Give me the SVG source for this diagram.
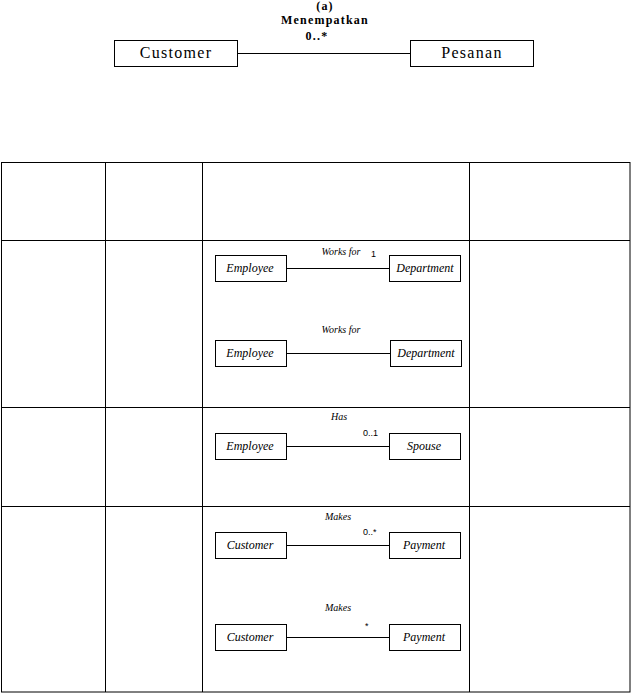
<svg xmlns="http://www.w3.org/2000/svg" width="632" height="694" viewBox="0 0 632 694">
<style>
.box{fill:#fff;stroke:#000;stroke-width:1}
.ln{stroke:#000;stroke-width:1;fill:none}
.big{font-family:"Liberation Serif","DejaVu Serif",serif;font-size:16px;letter-spacing:1.3px;text-anchor:middle}
.hd{font-family:"Liberation Serif","DejaVu Serif",serif;font-size:12px;font-weight:bold;letter-spacing:1.2px;text-anchor:middle}
.it{font-family:"Liberation Serif","DejaVu Serif",serif;font-style:italic;font-size:12px;text-anchor:middle}
.sm{font-family:"Liberation Serif","DejaVu Serif",serif;font-style:italic;font-size:10px;text-anchor:middle}
.mul{font-family:"Liberation Sans",sans-serif;font-size:9px}
</style>
<rect width="632" height="694" fill="#fff"/>
<g id="table" class="ln">
<rect x="1.5" y="162.5" width="628.5" height="529.5"/>
<line x1="105.5" y1="162" x2="105.5" y2="692"/>
<line x1="202.5" y1="162" x2="202.5" y2="692"/>
<line x1="469.5" y1="162" x2="469.5" y2="692"/>
<line x1="1" y1="240.5" x2="630" y2="240.5"/>
<line x1="1" y1="407.5" x2="630" y2="407.5"/>
<line x1="1" y1="506.5" x2="630" y2="506.5"/>
</g>
<text class="hd" x="325" y="10">(a)</text>
<text class="hd" x="325" y="24">Menempatkan</text>
<text class="hd" x="317" y="40">0..*</text>
<g id="connectors" class="ln">
<line x1="237" y1="53.5" x2="410" y2="53.5"/>
<line x1="286" y1="268.5" x2="389" y2="268.5"/>
<line x1="286" y1="353.5" x2="390" y2="353.5"/>
<line x1="286" y1="446.5" x2="389" y2="446.5"/>
<line x1="286" y1="545.5" x2="389" y2="545.5"/>
<line x1="286" y1="637.5" x2="389" y2="637.5"/>
</g>
<g id="customer-a"><rect class="box" x="114.5" y="40.5" width="123" height="26"/><text class="big" x="176" y="58">Customer</text></g>
<g id="pesanan-a"><rect class="box" x="410.5" y="40.5" width="123" height="26"/><text class="big" x="472" y="58">Pesanan</text></g>
<text class="sm" x="341" y="255">Works for</text>
<text class="mul" x="371" y="257">1</text>
<g id="employee1"><rect class="box" x="215.5" y="255.5" width="71" height="26"/><text class="it" x="250" y="272">Employee</text></g>
<g id="department1"><rect class="box" x="389.5" y="255.5" width="71" height="26"/><text class="it" x="425" y="272">Department</text></g>
<text class="sm" x="341" y="333">Works for</text>
<g id="employee2"><rect class="box" x="215.5" y="340.5" width="71" height="26"/><text class="it" x="250" y="357">Employee</text></g>
<g id="department2"><rect class="box" x="390.5" y="340.5" width="71" height="26"/><text class="it" x="426" y="357">Department</text></g>
<text class="sm" x="339" y="420">Has</text>
<text class="mul" x="363" y="436">0..1</text>
<g id="employee3"><rect class="box" x="215.5" y="433.5" width="71" height="26"/><text class="it" x="250" y="450">Employee</text></g>
<g id="spouse"><rect class="box" x="389.5" y="433.5" width="71" height="26"/><text class="it" x="424" y="450">Spouse</text></g>
<text class="sm" x="338" y="520">Makes</text>
<text class="mul" x="363" y="535">0..*</text>
<g id="customer1"><rect class="box" x="215.5" y="532.5" width="71" height="26"/><text class="it" x="250" y="549">Customer</text></g>
<g id="payment1"><rect class="box" x="389.5" y="532.5" width="71" height="26"/><text class="it" x="424" y="549">Payment</text></g>
<text class="sm" x="338" y="611">Makes</text>
<text class="mul" x="365" y="629">*</text>
<g id="customer2"><rect class="box" x="215.5" y="624.5" width="71" height="26"/><text class="it" x="250" y="641">Customer</text></g>
<g id="payment2"><rect class="box" x="389.5" y="624.5" width="71" height="26"/><text class="it" x="424" y="641">Payment</text></g>
</svg>
